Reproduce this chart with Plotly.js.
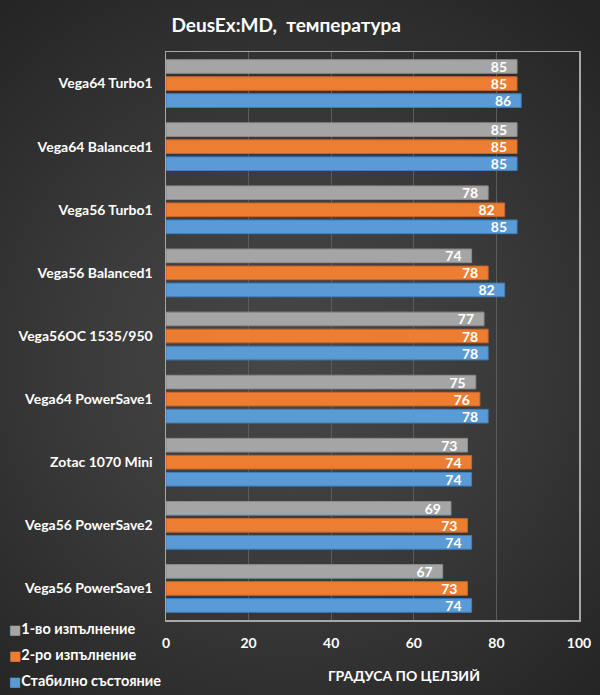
<!DOCTYPE html>
<html>
<head>
<meta charset="utf-8">
<script src="https://cdn.plot.ly/plotly-3.0.1.min.js"></script>
<style>
  html, body { margin: 0; padding: 0; }
  #chart {
    width: 600px; height: 695px;
    background: radial-gradient(ellipse 75% 65% at 48% 52%, #474747 0%, #3b3b3b 45%, #2d2d2d 80%, #252525 100%);
  }
</style>
</head>
<body>
<div id="chart"></div>
<script>
// categories, top to bottom as on the picture
var configs = ["Vega64 Turbo1", "Vega64 Balanced1", "Vega56 Turbo1", "Vega56 Balanced1",
  "Vega56OC 1535/950", "Vega64 PowerSave1", "Zotac 1070 Mini", "Vega56 PowerSave2", "Vega56 PowerSave1"];

var run1 = [85, 85, 78, 74, 77, 75, 73, 69, 67];
var run2 = [85, 85, 82, 78, 78, 76, 74, 73, 73];
var steady = [86, 85, 85, 82, 78, 78, 74, 74, 74];

var seriesNames = ["1-во изпълнение", "2-ро изпълнение", "Стабилно състояние"];
var seriesColors = ["#a5a5a5", "#ed7d31", "#5b9bd5"];
var edgeColors = ["#8c8c8c", "#c9652a", "#3f7fbf"];

var FONT = "Lato, 'Open Sans', sans-serif";

function barTrace(vals, i) {
  return {
    type: "bar",
    orientation: "h",
    // the square is part of the entry text, like the original; the plotly swatch sits off-canvas
    name: '<span style="color:' + seriesColors[i] + ';font-family:DejaVu Sans;font-size:13px">■</span>' + seriesNames[i],
    legendgroup: "g" + i,
    x: vals,
    y: configs,
    text: vals.map(String),
    texttemplate: "%{text}\u2002",
    textposition: "inside",
    insidetextanchor: "end",
    constraintext: "none",
    textangle: 0,
    textfont: { family: FONT, size: 14, color: "#ffffff", weight: 700 },
    marker: { color: seriesColors[i], line: { color: edgeColors[i], width: 1 } },
    hoverinfo: "skip"
  };
}

var traces = [barTrace(run1, 0), barTrace(run2, 1), barTrace(steady, 2)];

var plotL = 166, plotR = 579;

var layout = {
  width: 600,
  height: 695,
  paper_bgcolor: "rgba(0,0,0,0)",
  plot_bgcolor: "rgba(0,0,0,0)",
  margin: { l: plotL, r: 600 - plotR, t: 52, b: 75, autoexpand: false },
  font: { family: FONT, color: "#ffffff", size: 13, weight: 700 },
  title: {
    text: "DeusEx:MD,  температура",
    font: { family: FONT, size: 19, color: "#ffffff", weight: 700 },
    xref: "container", x: 0.477, xanchor: "center",
    yref: "container", y: 0.963, yanchor: "middle"
  },
  barmode: "group",
  bargap: 0.19,
  bargroupgap: 0.2,
  showlegend: true,
  legend: {
    xref: "paper", x: (-plotL - 31) / (plotR - plotL), xanchor: "left",
    yref: "paper", y: 0.013, yanchor: "top",
    traceorder: "grouped",
    tracegroupgap: 4,
    itemwidth: 30,
    font: { family: FONT, size: 14.5, color: "#ffffff", weight: 700 },
    bgcolor: "rgba(0,0,0,0)"
  },
  xaxis: {
    range: [0, 100],
    dtick: 20,
    tick0: 0,
    showgrid: true,
    gridcolor: "#5c5c5c",
    gridwidth: 1,
    zeroline: false,
    showline: true,
    mirror: true,
    linecolor: "#a8a8a8",
    linewidth: 1.5,
    ticks: "",
    ticklabelstandoff: 10,
    tickfont: { family: FONT, size: 14, color: "#ffffff", weight: 700 }
  },
  yaxis: {
    type: "category",
    autorange: "reversed",
    showgrid: false,
    zeroline: false,
    showline: true,
    mirror: true,
    linecolor: "#a8a8a8",
    linewidth: 1.5,
    ticks: "",
    ticklabelstandoff: 9,
    tickfont: { family: FONT, size: 14, color: "#ffffff", weight: 700 }
  },
  annotations: [{
    text: "ГРАДУСА ПО ЦЕЛЗИЙ",
    xref: "paper", x: 0.576, xanchor: "center",
    yref: "paper", y: -0.097, yanchor: "middle",
    showarrow: false,
    font: { family: FONT, size: 14, color: "#ffffff", weight: 700 }
  }]
};

Plotly.newPlot("chart", traces, layout, { displayModeBar: false, staticPlot: true });
</script>
</body>
</html>
